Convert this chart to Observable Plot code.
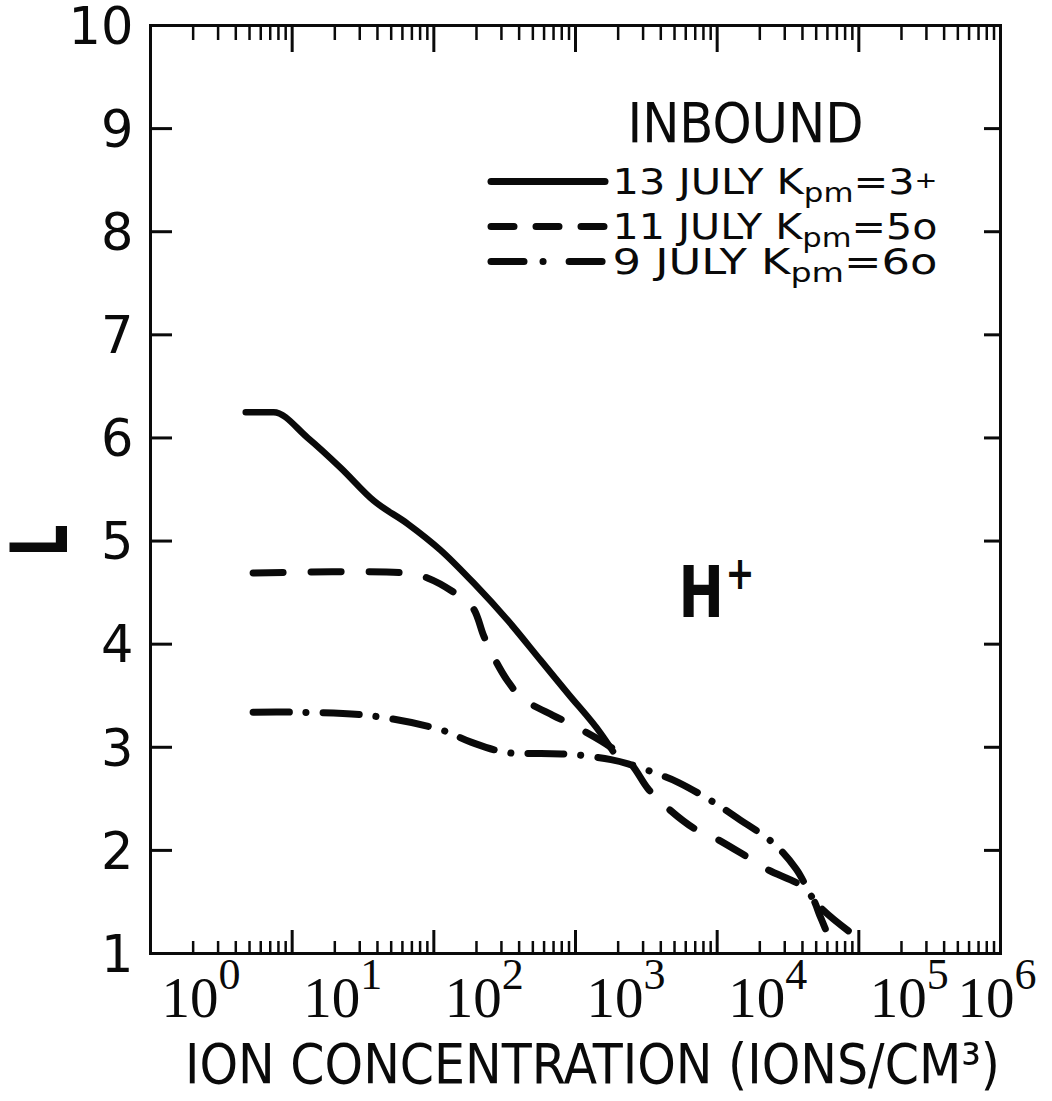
<!DOCTYPE html>
<html><head><meta charset="utf-8">
<script src="https://cdn.jsdelivr.net/npm/d3@7"></script>
<script src="https://cdn.jsdelivr.net/npm/@observablehq/plot@0.6"></script>
<style>
html,body{margin:0;padding:0;background:#fff;}
#chart svg{display:block;}
</style>
</head><body>
<div id="chart"></div>
<script>
// ---- data ----
const seriesNames = ["13 JULY", "11 JULY", "9 JULY"];
const kpValues = ["3+", "5o", "6o"];

const solidX = [4.7, 7.4, 12.9, 22, 37.7, 65, 112, 192, 333, 570, 885, 1515, 1840];
const solidL = [6.25, 6.25, 6.00, 5.71, 5.39, 5.17, 4.91, 4.59, 4.23, 3.84, 3.52, 3.13, 2.96];

const dashedX = [5.3, 63, 91, 143, 189, 225, 261, 333, 425, 692, 975, 1780, 2460, 3240, 4150, 6760, 9370, 16600, 23000, 39000, 47000, 53000, 58000];
const dashedL = [4.69, 4.69, 4.64, 4.49, 4.35, 4.08, 3.89, 3.64, 3.47, 3.31, 3.21, 3.00, 2.84, 2.60, 2.45, 2.22, 2.13, 1.93, 1.81, 1.66, 1.54, 1.37, 1.24];

const dashdotX = [5.3, 10.6, 34, 112, 183, 323, 570, 975, 1780, 2350, 4000, 5300, 9100, 14000, 24900, 36100, 50000, 84300];
const dashdotL = [3.34, 3.34, 3.31, 3.17, 3.05, 2.95, 2.94, 2.93, 2.88, 2.84, 2.73, 2.66, 2.48, 2.31, 2.07, 1.82, 1.49, 1.22];

const yTicks = [1, 2, 3, 4, 5, 6, 7, 8, 9, 10];
const yTickLabels = ["1", "2", "3", "4", "5", "6", "7", "8", "9", "10"];
const xDecades = [1, 10, 100, 1000, 10000, 100000, 1000000];
const xTickBase = "10";
const xTickExponents = ["0", "1", "2", "3", "4", "5", "6"];
const xTitle = "ION CONCENTRATION (IONS/CM³)";
const yTitle = "L";
const legendTitle = "INBOUND";
const ionLabel = "H+";

// ---- layout ----
const W = 1052, H = 1101;
const mL = 150, mR = 52, mT = 25, mB = 148;
const fw = W - mL - mR, fh = H - mT - mB;
const pxToL = py => 10 - (py - mT) * 9 / fh;
const legendRowPx = [181, 226, 261];

const minorTicks = [];
for (let k = 0; k < 6; k++) for (let m = 2; m <= 9; m++) minorTicks.push(m * Math.pow(10, k));

const toRows = (xs, ls) => xs.map((x, i) => ({x, L: ls[i]}));
const solid = toRows(solidX, solidL);
const dashed = toRows(dashedX, dashedL);
const dashdot = toRows(dashdotX, dashdotL);

const legendRows = seriesNames.map((s, i) => ({
  label: `${s} Kpm=${kpValues[i]}`,
  L: pxToL(legendRowPx[i]),
  dash: [null, "23,22", "33,19,0.1,26"][i]
}));

const ink = "#0a0a0a";
const sans = "'DejaVu Sans Condensed', 'DejaVu Sans', sans-serif";
const serif = "'Liberation Serif', serif";
const xLabel = i => `${xTickBase}^${xTickExponents[i]}`;

const plot = Plot.plot({
  width: W, height: H,
  marginLeft: mL, marginRight: mR, marginTop: mT, marginBottom: mB,
  x: {type: "log", domain: [1, 1e6], axis: null},
  y: {domain: [1, 10], axis: null},
  style: {background: "#fff", color: ink, fontFamily: "'DejaVu Sans', sans-serif"},
  marks: [
    Plot.frame({stroke: ink, strokeWidth: 3}),
    // y ticks (inward, left and right)
    Plot.ruleY(yTicks.slice(1, -1), {insetRight: fw - 22, stroke: ink, strokeWidth: 3}),
    Plot.ruleY(yTicks.slice(1, -1), {insetLeft: fw - 16, stroke: ink, strokeWidth: 3}),
    // x ticks bottom
    Plot.ruleX(xDecades.slice(1, -1), {insetTop: fh - 23, stroke: ink, strokeWidth: 3}),
    Plot.ruleX(minorTicks, {insetTop: fh - 12, stroke: ink, strokeWidth: 2.5}),
    // x ticks top
    Plot.ruleX(xDecades.slice(1, -1), {insetBottom: fh - 27, stroke: ink, strokeWidth: 3}),
    Plot.ruleX(minorTicks, {insetBottom: fh - 15, stroke: ink, strokeWidth: 2.5}),
    // curves
    Plot.line(solid, {x: "x", y: "L", curve: "monotone-x", stroke: ink, strokeWidth: 6.5, strokeLinecap: "round", strokeLinejoin: "round"}),
    Plot.line(dashed, {x: "x", y: "L", curve: "catmull-rom", stroke: ink, strokeWidth: 7, strokeLinecap: "round", strokeDasharray: "30,28"}),
    Plot.line(dashdot, {x: "x", y: "L", curve: "catmull-rom", stroke: ink, strokeWidth: 7, strokeLinecap: "round", strokeDasharray: "36,17,0.1,17"}),
    // y tick labels
    Plot.text(yTicks, {y: d => d, text: (d, i) => yTickLabels[i], frameAnchor: "left", textAnchor: "end", lineAnchor: "middle", dx: -17, dy: 2, fontSize: 51, fill: ink}),
    // x tick labels (10 with superscript exponent)
    Plot.text(xDecades.slice(0, 6), {x: d => d, text: (d, i) => xLabel(i), frameAnchor: "bottom", textAnchor: "start", lineAnchor: "middle", dx: 11, dy: 45, fontSize: 57, fontFamily: serif, fill: ink}),
    Plot.text(xDecades.slice(6), {x: d => d, text: () => xLabel(6), frameAnchor: "bottom", textAnchor: "start", lineAnchor: "middle", dx: -43, dy: 45, fontSize: 57, fontFamily: serif, fill: ink}),
    // axis titles
    Plot.text([xTitle], {text: d => d, frameAnchor: "bottom", textAnchor: "middle", lineAnchor: "middle", dx: 17, dy: 112, fontSize: 56, fontFamily: sans, fill: ink}),
    Plot.text([yTitle], {text: d => d, frameAnchor: "left", textAnchor: "middle", lineAnchor: "middle", dx: -108, dy: 51, rotate: -90, fontSize: 78, fontWeight: "bold", fill: ink}),
    // legend
    Plot.text([legendTitle], {text: d => d, frameAnchor: "top-left", textAnchor: "middle", lineAnchor: "middle", dx: 595, dy: 99, fontSize: 56, fontFamily: sans, fill: ink}),
    ...legendRows.map(r => Plot.ruleY([r], {y: "L", insetLeft: 341, insetRight: 395, stroke: ink, strokeWidth: 7, strokeLinecap: "round", strokeDasharray: r.dash})),
    Plot.text(legendRows, {y: "L", text: "label", frameAnchor: "left", textAnchor: "start", lineAnchor: "middle", dx: 462, dy: 1, fontSize: 35, fontFamily: sans, fill: ink}),
    // H+ label
    Plot.text([ionLabel], {text: d => d, frameAnchor: "top-left", textAnchor: "start", lineAnchor: "middle", dx: 528, dy: 568, fontSize: 72, fontWeight: "bold", fill: ink})
  ]
});

// post-processing of text details (sub/superscripts, condensed lettering)
const ns = "http://www.w3.org/2000/svg";
const fit = (t, len) => { t.setAttribute("textLength", len); t.setAttribute("lengthAdjust", "spacingAndGlyphs"); };
const tspan = (txt, attrs) => { const e = document.createElementNS(ns, "tspan"); for (const k in attrs) e.setAttribute(k, attrs[k]); e.textContent = txt; return e; };
plot.querySelectorAll("text").forEach(t => {
  const s = t.textContent;
  let m;
  if (s === xTitle) fit(t, 815);
  else if (s === legendTitle) fit(t, 236);
  else if (s === yTitle) fit(t, 32);
  else if (s === ionLabel) {
    t.textContent = "H";
    t.appendChild(tspan("+", {"font-size": 46, dy: -28, dx: 2}));
    fit(t, 76);
  } else if ((m = s.match(/^(\d+)\^(\d)$/))) {
    t.textContent = m[1];
    t.appendChild(tspan(m[2], {"font-size": 44, dy: -28, dx: 0}));
  } else if ((m = s.match(/^(.*K)pm=(\d)(.*)$/))) {
    t.textContent = "";
    t.appendChild(document.createTextNode(m[1]));
    t.appendChild(tspan("pm", {"font-size": 26, dy: 8}));
    t.appendChild(tspan("=" + m[2], {dy: -8}));
    if (m[3] === "+") t.appendChild(tspan("+", {"font-size": 23, dy: -6}));
    else t.appendChild(tspan(m[3], {}));
    fit(t, 325);
  }
});

document.getElementById("chart").appendChild(plot);
</script>
</body></html>
